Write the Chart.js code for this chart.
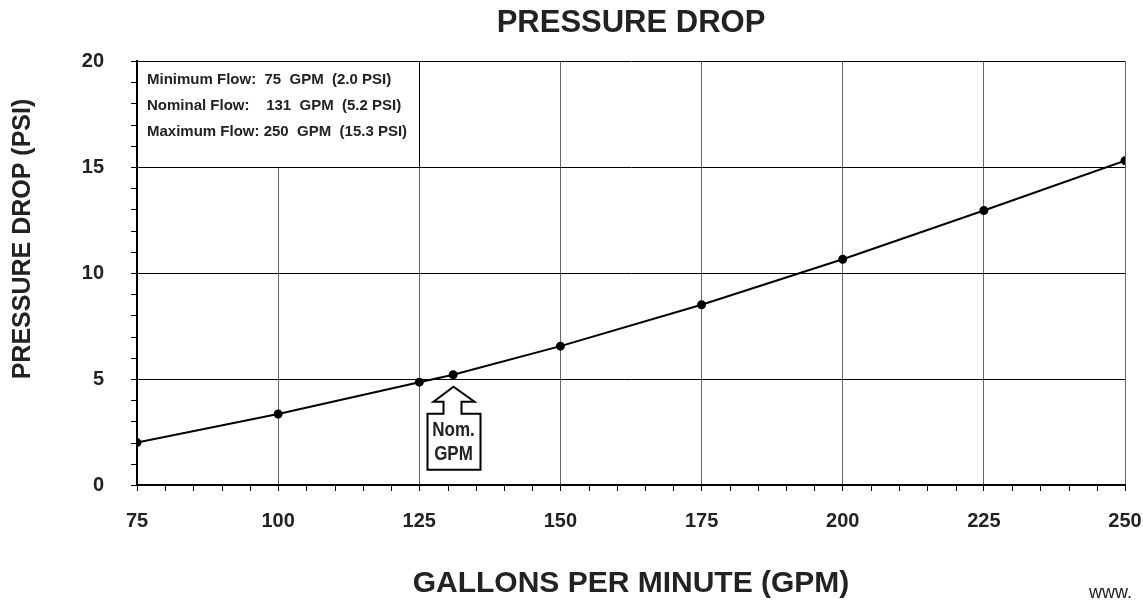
<!DOCTYPE html>
<html>
<head>
<meta charset="utf-8">
<script src="https://cdn.jsdelivr.net/npm/chart.js@4"></script>
<style>
  html, body { margin: 0; padding: 0; background: #fff; }
  #wrap { width: 1143px; height: 604px; position: relative; }
</style>
</head>
<body>
<div id="wrap"><canvas id="myChart"></canvas></div>
<script>
// values
const gpm = [75, 100, 125, 131, 150, 175, 200, 225, 250];
const psi = [2.0, 3.35, 4.85, 5.2, 6.55, 8.5, 10.65, 12.95, 15.3];
const xTicks = [75, 100, 125, 150, 175, 200, 225, 250];
const yTicks = [0, 5, 10, 15, 20];
const infoLines = [
    "Minimum Flow:  75  GPM  (2.0 PSI)",
    "Nominal Flow:    131  GPM  (5.2 PSI)",
    "Maximum Flow: 250  GPM  (15.3 PSI)"
];
const nominal = { x: 131, y: 5.2, label: ["Nom.", "GPM"] };
const chartTitle = "PRESSURE DROP";
const yTitle = "PRESSURE DROP (PSI)";

const fontFam = "'Liberation Sans', Arial, sans-serif";

// text squeezed sideways, the picture uses a narrow face there
function narrowText(ctx, txt, x, y, squeeze) {
    ctx.save();
    ctx.translate(x, y);
    ctx.scale(squeeze, 1);
    ctx.fillText(txt, 0, 0);
    ctx.restore();
}

const extras = {
    id: "extras",
    afterDraw(chart) {
        const ctx = chart.ctx;
        const xs = chart.scales.x;
        const ys = chart.scales.y;
        const area = chart.chartArea;
        ctx.save();

        // title over the plot
        ctx.fillStyle = "#222";
        ctx.font = "bold 31px " + fontFam;
        ctx.textAlign = "center";
        ctx.textBaseline = "middle";
        ctx.fillText(chartTitle, (area.left + area.right) / 2, 23);

        // y axis title, sits a bit above the middle in the picture
        ctx.save();
        ctx.translate(23, 239);
        ctx.rotate(-Math.PI / 2);
        ctx.font = "bold 25px " + fontFam;
        ctx.fillText(yTitle, 0, 0);
        ctx.restore();

        // minor ticks
        ctx.strokeStyle = "#000";
        ctx.lineWidth = 1;
        for (let v = 1; v < 20; v++) {
            if (v % 5 === 0) continue;
            const py = Math.round(ys.getPixelForValue(v)) + 0.5;
            ctx.beginPath();
            ctx.moveTo(area.left - 6, py);
            ctx.lineTo(area.left, py);
            ctx.stroke();
        }
        for (let v = 80; v < 250; v += 5) {
            if (v % 25 === 0) continue;
            const px = Math.round(xs.getPixelForValue(v)) + 0.5;
            ctx.beginPath();
            ctx.moveTo(px, area.bottom);
            ctx.lineTo(px, area.bottom + 6);
            ctx.stroke();
        }

        // info box in the top-left cell
        const bx = xs.getPixelForValue(75);
        const bx2 = xs.getPixelForValue(125);
        const by = ys.getPixelForValue(20);
        const by2 = ys.getPixelForValue(15);
        ctx.fillStyle = "#fff";
        ctx.fillRect(bx + 1, by + 1, bx2 - bx - 1, by2 - by - 1);
        ctx.strokeStyle = "#000";
        ctx.beginPath();
        ctx.moveTo(bx, Math.round(by2) + 0.5);
        ctx.lineTo(bx2, Math.round(by2) + 0.5);
        ctx.moveTo(Math.round(bx2) + 0.5, by);
        ctx.lineTo(Math.round(bx2) + 0.5, by2);
        ctx.stroke();
        ctx.fillStyle = "#222";
        ctx.font = "bold 15px " + fontFam;
        ctx.textBaseline = "middle";
        ctx.textAlign = "left";
        infoLines.forEach((t, i) => {
            ctx.fillText(t, bx + 10, by + 19 + i * 26);
        });

        // nominal arrow
        const cx = Math.round(xs.getPixelForValue(nominal.x)) + 0.5;
        const tip = ys.getPixelForValue(nominal.y) + 12;
        const headY = tip + 15;
        const boxTop = tip + 27;
        const boxBot = tip + 83;
        ctx.beginPath();
        ctx.moveTo(cx, tip);
        ctx.lineTo(cx + 21, headY);
        ctx.lineTo(cx + 8, headY);
        ctx.lineTo(cx + 8, boxTop);
        ctx.lineTo(cx + 27, boxTop);
        ctx.lineTo(cx + 27, boxBot);
        ctx.lineTo(cx - 26, boxBot);
        ctx.lineTo(cx - 26, boxTop);
        ctx.lineTo(cx - 10, boxTop);
        ctx.lineTo(cx - 10, headY);
        ctx.lineTo(cx - 20, headY);
        ctx.closePath();
        ctx.fillStyle = "#fff";
        ctx.fill();
        ctx.lineWidth = 2;
        ctx.strokeStyle = "#000";
        ctx.stroke();
        ctx.fillStyle = "#222";
        ctx.font = "bold 20px " + fontFam;
        ctx.textAlign = "center";
        narrowText(ctx, nominal.label[0], cx, boxTop + 17, 0.85);
        narrowText(ctx, nominal.label[1], cx, boxTop + 41, 0.85);

        // footer
        ctx.font = "18px " + fontFam;
        ctx.fillStyle = "#222";
        ctx.textAlign = "left";
        ctx.fillText("www.", 1089, 593);
        ctx.restore();
    }
};

const config = {
    type: "line",
    data: {
        datasets: [{
            data: gpm.map((g, i) => ({ x: g, y: psi[i] })),
            borderColor: "#000",
            backgroundColor: "#000",
            borderWidth: 2,
            pointRadius: 3.5,
            pointHoverRadius: 3.5,
            tension: 0
        }]
    },
    options: {
        responsive: false,
        animation: false,
        layout: { padding: { top: 61, right: 18, bottom: 0, left: 0 } },
        plugins: {
            legend: { display: false },
            tooltip: { enabled: false },
            title: { display: false }
        },
        scales: {
            x: {
                type: "linear",
                min: 75,
                max: 250,
                afterBuildTicks: s => { s.ticks = xTicks.map(v => ({ value: v })); },
                afterFit: s => {
                    s.height = 119;
                    s.paddingLeft = 0;
                    s.paddingRight = 0;
                },
                ticks: {
                    color: "#222",
                    font: { family: fontFam, size: 20, weight: "bold" },
                    padding: 18,
                    maxRotation: 0
                },
                grid: { color: "#666", lineWidth: 1, tickLength: 6, tickColor: "#000" },
                border: { color: "#000", width: 2 },
                title: {
                    display: true,
                    text: "GALLONS PER MINUTE (GPM)",
                    color: "#222",
                    font: { family: fontFam, size: 30, weight: "bold" },
                    padding: { top: 0, bottom: 2 }
                }
            },
            y: {
                type: "linear",
                min: 0,
                max: 20,
                afterBuildTicks: s => { s.ticks = yTicks.map(v => ({ value: v })); },
                afterFit: s => {
                    s.width = 137;
                    s.paddingTop = 0;
                    s.paddingBottom = 0;
                },
                ticks: {
                    color: "#222",
                    font: { family: fontFam, size: 20, weight: "bold" },
                    padding: 27
                },
                grid: { color: "#000", lineWidth: 1, tickLength: 6 },
                border: { color: "#000", width: 2 }
            }
        }
    },
    plugins: [extras]
};

const canvas = document.getElementById("myChart");
canvas.width = 1143;
canvas.height = 604;
new Chart(canvas, config);
</script>
</body>
</html>
